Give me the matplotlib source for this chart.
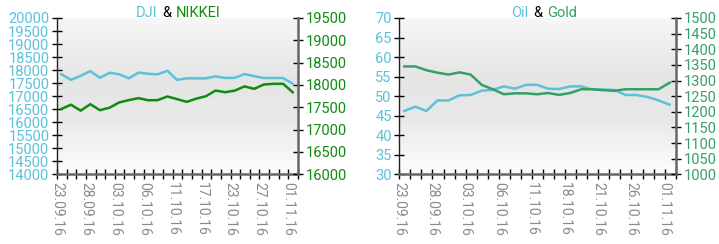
import numpy as np
import matplotlib.pyplot as plt
from matplotlib.colors import LinearSegmentedColormap
from matplotlib.offsetbox import TextArea, HPacker, AnnotationBbox

plt.rcParams['font.family'] = ['Roboto', 'DejaVu Sans']

# Colours
BLUE = '#5cc1d9'
NIKKEI_GREEN = '#0e8c0e'
GOLD_GREEN = '#35a066'
LABEL_GRAY = '#8a8a8a'

# Data (25 trading days each)
dji = [17840, 17626, 17780, 17961, 17703, 17896, 17838, 17683, 17904, 17857,
       17838, 17973, 17626, 17683, 17683, 17683, 17761, 17695, 17703, 17846,
       17768, 17695, 17695, 17695, 17479]
nikkei = [17462, 17559, 17424, 17570, 17435, 17491, 17609, 17661, 17706, 17658,
          17661, 17742, 17683, 17622, 17694, 17749, 17875, 17837, 17875, 17968,
          17913, 18010, 18026, 18026, 17837]
oil = [46.2, 47.3, 46.2, 48.9, 48.9, 50.2, 50.3, 51.4, 51.6, 52.5,
       51.9, 52.9, 52.9, 51.9, 51.8, 52.5, 52.5, 51.7, 51.7, 51.6,
       50.3, 50.3, 49.8, 48.9, 47.8]
gold = [1345, 1345, 1333, 1325, 1319, 1326, 1319, 1286, 1272, 1256,
        1259, 1259, 1256, 1260, 1254, 1260, 1272, 1272, 1269, 1267,
        1272, 1272, 1272, 1272, 1293]

dates_left = ['23.09.16', '28.09.16', '03.10.16', '06.10.16', '11.10.16',
              '17.10.16', '23.10.16', '27.10.16', '01.11.16']
dates_right = ['23.09.16', '28.09.16', '03.10.16', '06.10.16', '11.10.16',
               '18.10.16', '21.10.16', '26.10.16', '01.11.16']

# soft gray band behind the lines
bg = LinearSegmentedColormap.from_list(
    'bg', [(0.0, '#fdfdfd'), (0.35, '#e9e9e9'), (0.6, '#e5e5e5'), (1.0, '#f7f7f7')])


def draw_panel(fig, rect, left_vals, right_vals, left_color, right_color,
               left_lim, left_step, right_lim, right_step, dates, names, title_x):
    ax = fig.add_axes(rect)
    ax2 = ax.twinx()
    n = len(left_vals)
    x = np.arange(n) + 0.45

    grad = np.linspace(0, 1, 256).reshape(-1, 1)
    ax.imshow(grad, cmap=bg, origin='lower', aspect='auto',
              extent=[0, 1, 0, 1], transform=ax.transAxes, zorder=0)

    ax.plot(x, left_vals, color=left_color, lw=1.8, zorder=3)
    ax2.plot(x, right_vals, color=right_color, lw=1.8, zorder=3)

    ax.set_xlim(0, n)
    ax.set_ylim(*left_lim)
    ax2.set_ylim(*right_lim)
    ax.set_yticks(np.arange(left_lim[0], left_lim[1] + 1e-9, left_step))
    ax2.set_yticks(np.arange(right_lim[0], right_lim[1] + 1e-9, right_step))
    ax.set_xticks(np.arange(n + 1))
    ax.set_xticklabels([dates[i // 3] if i % 3 == 0 and i // 3 < len(dates) else ''
                        for i in range(n + 1)], rotation=-90)

    ax.tick_params(axis='y', direction='inout', length=7, width=1,
                   colors='black', labelcolor=left_color, labelsize=10.5, pad=2)
    ax2.tick_params(axis='y', direction='inout', length=7, width=1,
                    colors='black', labelcolor=right_color, labelsize=10.5, pad=2)
    ax.tick_params(axis='x', direction='inout', length=7, width=1,
                   colors='black', labelcolor=LABEL_GRAY, labelsize=10, pad=2)

    for a in (ax, ax2):
        a.spines['top'].set_visible(False)
    ax.spines['left'].set_color('#222222')
    ax.spines['left'].set_linewidth(1)
    ax2.spines['left'].set_visible(False)
    ax2.spines['bottom'].set_visible(False)
    ax.spines['right'].set_visible(False)
    ax2.spines['right'].set_color('#666666')
    ax2.spines['right'].set_linewidth(1.8)
    ax.spines['bottom'].set_color('#666666')
    ax.spines['bottom'].set_linewidth(1.8)

    # two-colour title "A & B", centred on the ampersand position
    parts = [TextArea(names[0], textprops=dict(color=left_color, fontsize=10.5)),
             TextArea('&', textprops=dict(color='black', fontsize=10.5)),
             TextArea(names[1], textprops=dict(color=right_color, fontsize=10.5))]
    box = HPacker(children=parts, align='baseline', pad=0, sep=3.5)
    ab = AnnotationBbox(box, (title_x, 0.945), xycoords='figure fraction',
                        frameon=False, box_alignment=(0.5, 0.5))
    fig.add_artist(ab)
    return ax, ax2


fig = plt.figure(figsize=(7.19, 2.44), dpi=100)

draw_panel(fig, [0.0793, 0.2857, 0.3352, 0.6406], dji, nikkei, BLUE, NIKKEI_GREEN,
           (14000, 20000), 500, (16000, 19500), 500, dates_left,
           ('DJI', 'NIKKEI'), 0.2475)
draw_panel(fig, [0.5554, 0.2857, 0.3844, 0.6406], oil, gold, BLUE, GOLD_GREEN,
           (30, 70), 5, (1000, 1500), 50, dates_right,
           ('Oil', 'Gold'), 0.757)

fig.savefig('out.png', dpi=100)
